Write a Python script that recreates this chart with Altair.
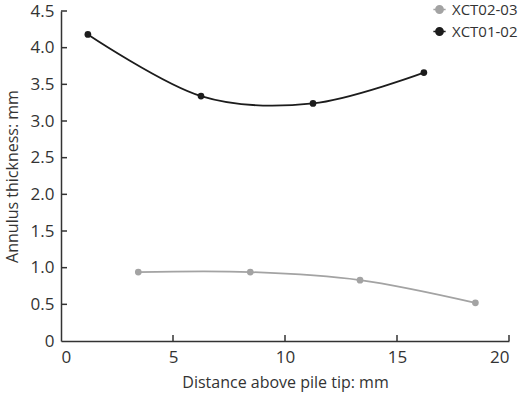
import altair as alt
import pandas as pd

# Annulus thickness measured along the pile, two XCT scans
series_a_name = "XCT02-03"
series_a_x = [3.45, 8.45, 13.35, 18.5]
series_a_y = [0.94, 0.94, 0.83, 0.52]

series_b_name = "XCT01-02"
series_b_x = [1.2, 6.25, 11.25, 16.2]
series_b_y = [4.18, 3.34, 3.24, 3.66]

x_ticks = [5, 10, 15, 20]
y_ticks = [0.5, 1.0, 1.5, 2.0, 2.5, 3.0, 3.5, 4.0, 4.5]

df = pd.concat([
    pd.DataFrame({"dist": series_a_x, "thick": series_a_y, "scan": series_a_name}),
    pd.DataFrame({"dist": series_b_x, "thick": series_b_y, "scan": series_b_name}),
])

FONT = "Open Sans"
TEXT = "#333333"
W, H = 448, 330

x_scale = alt.Scale(domain=[0, 20], nice=False)
y_scale = alt.Scale(domain=[0, 4.5], nice=False)
color_scale = alt.Scale(domain=[series_a_name, series_b_name],
                        range=["#a3a3a3", "#1c1c1c"])

# legend glyph: short line with a dot in the middle
glyph = "M-1,0L1,0M-0.6,0a0.6,0.6 0 1,0 1.2,0a0.6,0.6 0 1,0 -1.2,0"

x_axis = alt.Axis(title="Distance above pile tip: mm", values=[0] + x_ticks,
                  ticks=False, grid=False, labelPadding=8, titlePadding=9,
                  labelOverlap=False)
y_axis = alt.Axis(title="Annulus thickness: mm", values=[0] + y_ticks,
                  ticks=False, grid=False, labelPadding=7, titlePadding=10,
                  labelOverlap=False,
                  labelExpr="datum.value == 0 ? '0' : format(datum.value, '.1f')")
x_enc = alt.X("dist:Q", scale=x_scale, axis=x_axis)
y_enc = alt.Y("thick:Q", scale=y_scale, axis=y_axis)

color_enc = alt.Color("scan:N", scale=color_scale,
                      legend=alt.Legend(title=None, orient="none", legendX=371, legendY=-9,
                                        symbolType=glyph, symbolSize=150,
                                        symbolStrokeWidth=1.5, labelFontSize=15,
                                        labelFont=FONT, labelColor=TEXT, labelOffset=5,
                                        rowPadding=6, padding=0))

lines = alt.Chart(df).mark_line(interpolate="cardinal", strokeWidth=1.8).encode(
    x=x_enc, y=y_enc, color=color_enc, detail="scan:N")
points = alt.Chart(df).mark_point(filled=True, size=45, opacity=1).encode(
    x=x_enc, y=y_enc, color=color_enc)

# inward-pointing tick marks
xt = alt.Chart(pd.DataFrame({"dist": x_ticks})).mark_rule(
    color=TEXT, strokeWidth=1.5).encode(
    x=x_enc, y=alt.value(H), y2=alt.value(H - 6))
yt = alt.Chart(pd.DataFrame({"thick": y_ticks})).mark_rule(
    color=TEXT, strokeWidth=1.5).encode(
    y=y_enc, x=alt.value(0), x2=alt.value(6))

chart = alt.layer(lines, points, xt, yt).properties(
    width=W, height=H,
    autosize=alt.AutoSizeParams(type="none"),
    padding={"left": 61, "top": 11, "right": 11, "bottom": 57},
).configure_view(stroke=None).configure_axis(
    domainColor=TEXT, domainWidth=1.5, labelFont=FONT, titleFont=FONT,
    labelFontSize=17, titleFontSize=16, labelColor=TEXT, titleColor=TEXT,
    titleFontWeight="normal",
)

chart.save("out.html", embed_options={"renderer": "svg", "actions": False})
